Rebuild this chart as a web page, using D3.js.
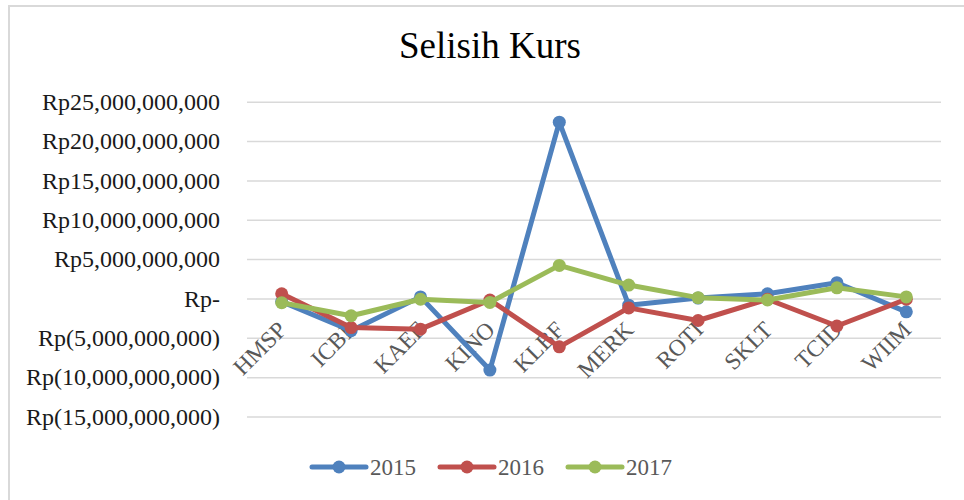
<!DOCTYPE html>
<html><head><meta charset="utf-8">
<script src="https://cdn.jsdelivr.net/npm/d3@7/dist/d3.min.js"></script>
<style>body{margin:0;background:#fff}svg{display:block}</style>
</head><body>
<svg id="chart" width="964" height="500"></svg>
<script>
const categories = ["HMSP","ICBP","KAEF","KINO","KLBF","MERK","ROTI","SKLT","TCID","WIIM"];
const s2015 = [-0.4e9, -4.1e9, 0.2e9, -9.1e9, 22.4e9, -0.85e9, 0.05e9, 0.6e9, 2.0e9, -1.7e9];
const s2016 = [0.6e9, -3.7e9, -3.9e9, -0.2e9, -6.15e9, -1.2e9, -2.8e9, -0.1e9, -3.5e9, -0.1e9];
const s2017 = [-0.55e9, -2.2e9, -0.1e9, -0.5e9, 4.2e9, 1.7e9, 0.1e9, -0.2e9, 1.35e9, 0.2e9];
const seriesNames = ["2015","2016","2017"];
const colors = ["#4F81BD","#C0504D","#9BBB59"];
const yTicks = [-15e9,-10e9,-5e9,0,5e9,10e9,15e9,20e9,25e9];
const yTickLabels = ["Rp(15,000,000,000)","Rp(10,000,000,000)","Rp(5,000,000,000)","Rp-","Rp5,000,000,000","Rp10,000,000,000","Rp15,000,000,000","Rp20,000,000,000","Rp25,000,000,000"];
const title = "Selisih Kurs";

const svg = d3.select("#chart");
const font = "'Liberation Serif','Times New Roman',serif";

// outer border
svg.append("rect").attr("x",9).attr("y",6).attr("width",1000).attr("height",600)
  .attr("fill","none").attr("stroke","#d9d9d9").attr("stroke-width",2);

const x = d3.scalePoint().domain(categories).range([247, 941]).padding(0.5);
const y = d3.scaleLinear().domain([-15e9, 25e9]).range([416.5, 101.7]);

// gridlines
const yAxis = d3.axisLeft(y).tickValues(yTicks).tickSize(-(941-247)).tickFormat((d,i)=>yTickLabels[i]).tickPadding(27);
const gy = svg.append("g").attr("transform","translate(247,0)").call(yAxis);
gy.select(".domain").remove();
gy.selectAll(".tick line").attr("stroke","#d9d9d9").attr("stroke-width",1.5);
gy.selectAll(".tick text").attr("font-family",font).attr("font-size",24).attr("fill","#1a1a1a");

// x axis labels
const xAxis = d3.axisBottom(x).tickSize(0).tickPadding(0);
const gx = svg.append("g").attr("transform",`translate(0,${y(0)})`).call(xAxis);
gx.select(".domain").remove();
gx.selectAll(".tick text")
  .attr("font-family",font).attr("font-size",23.5).attr("fill","#595959")
  .attr("text-anchor","end").attr("dy","0.35em").attr("y",0)
  .attr("transform","translate(0,27) rotate(-45)");

// lines
const allSeries = [s2015, s2016, s2017];
const line = d3.line().x((d,i)=>x(categories[i])).y(d=>y(d));
allSeries.forEach((s,k)=>{
  svg.append("path").datum(s).attr("d",line).attr("fill","none")
    .attr("stroke",colors[k]).attr("stroke-width",5).attr("stroke-linejoin","round").attr("stroke-linecap","round");
  svg.append("g").selectAll("circle").data(s).join("circle")
    .attr("cx",(d,i)=>x(categories[i])).attr("cy",d=>y(d)).attr("r",6.5).attr("fill",colors[k]);
});

// title
svg.append("text").attr("x",490).attr("y",58).attr("text-anchor","middle")
  .attr("font-family",font).attr("font-size",37).attr("fill","#000").text(title);

// legend
const legendX = [312, 440, 568];
seriesNames.forEach((n,k)=>{
  const g = svg.append("g").attr("transform",`translate(${legendX[k]},467)`);
  g.append("line").attr("x1",0).attr("x2",54).attr("stroke",colors[k]).attr("stroke-width",5).attr("stroke-linecap","round");
  g.append("circle").attr("cx",27).attr("r",6.5).attr("fill",colors[k]);
  g.append("text").attr("x",58).attr("dy","0.35em").attr("font-family",font).attr("font-size",23).attr("fill","#595959").text(n);
});
</script>
</body></html>
